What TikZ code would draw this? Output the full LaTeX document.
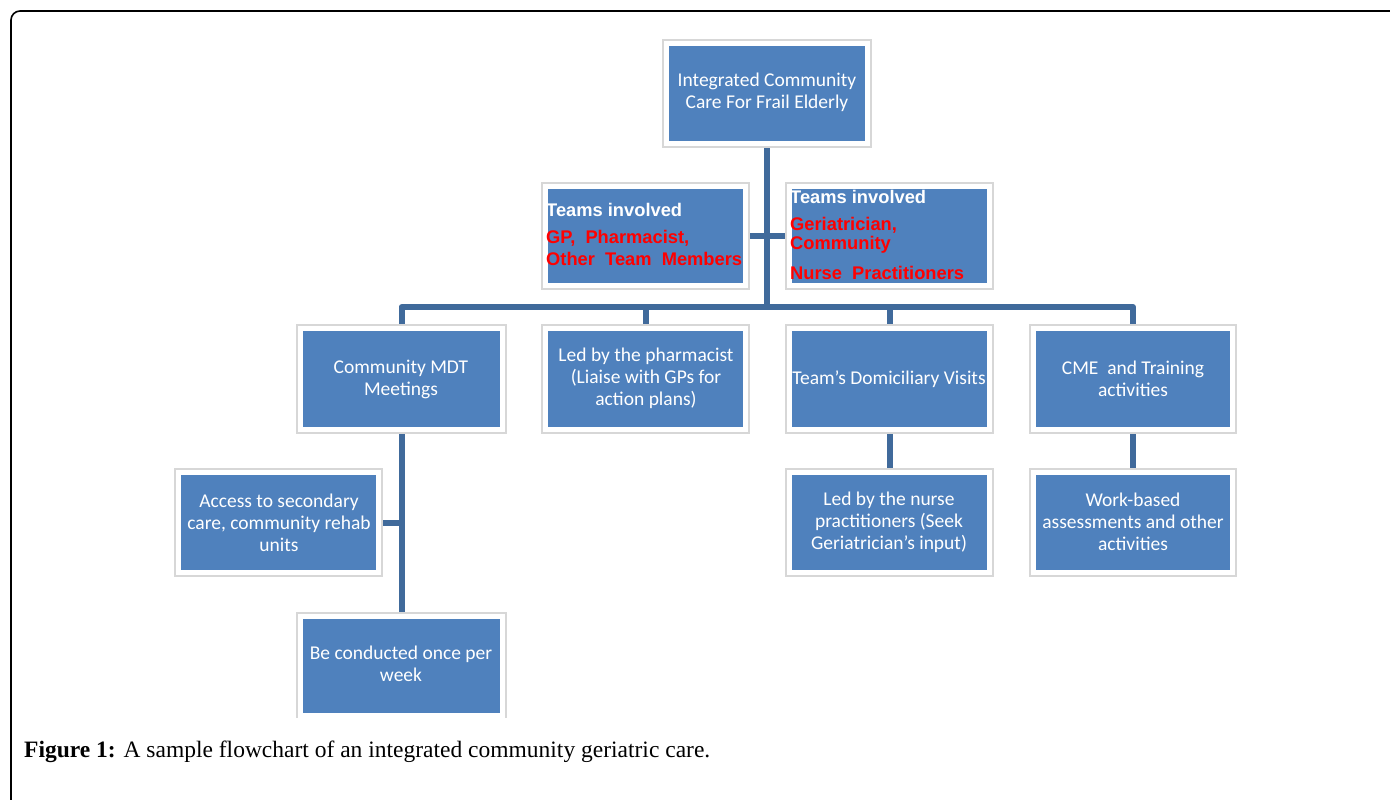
\documentclass[tikz,border=0pt]{standalone}
\usepackage{fontspec}
\setmainfont{Liberation Serif}
\newfontfamily\calfont{Carlito}
\newfontfamily\arialfont{Liberation Sans}
\usetikzlibrary{backgrounds}
\definecolor{boxblue}{RGB}{79,129,189}
\definecolor{connblue}{RGB}{64,106,155}
\definecolor{frameg}{RGB}{215,215,215}
\tikzset{
  x=1pt,y=-1pt,
  obox/.style={draw=frameg,line width=1.3pt,fill=white,inner sep=0pt},
  ibox/.style={fill=boxblue,inner sep=0pt},
  wtext/.style={text=white,align=center,inner sep=0pt,font=\calfont\fontsize{19.5}{22}\selectfont},
  teamhead/.style={text=white,anchor=west,inner sep=0pt,font=\arialfont\bfseries\fontsize{18.3}{20.5}\selectfont},
  teamred/.style={text=red,anchor=west,inner sep=0pt,font=\arialfont\bfseries\fontsize{18.3}{20.5}\selectfont},
  conn/.style={draw=connblue,line width=6pt,line join=round},
}
\newcommand\mkbox[6]{%
  \node[obox,minimum width=#4,minimum height=#5] (#1) at (#2,#3) {};
  \node[ibox,minimum width=#4-12,minimum height=#5-12] at (#1) {};
}
\begin{document}
\begin{tikzpicture}
\useasboundingbox (0,0) rectangle (1390,800);
% boxes
\mkbox{top}{767}{93.5}{208}{107}{}
\mkbox{tl}{645.5}{236}{207}{106}{}
\mkbox{tr}{889.5}{236}{207}{106}{}
\mkbox{mdt}{401.5}{379}{209}{108}{}
\mkbox{phar}{645.5}{379}{207}{108}{}
\mkbox{dom}{889.5}{379}{207}{108}{}
\mkbox{cme}{1133}{379}{206}{108}{}
\mkbox{acc}{278.5}{522.5}{207}{107}{}
\mkbox{nurse}{889.5}{522.5}{207}{107}{}
\mkbox{work}{1133}{522.5}{206}{107}{}
\mkbox{cond}{401.5}{666}{209}{106}{}
% mask bottom of last outer box
\fill[white] (290,717.5) rectangle (512,730);
% texts
\node[wtext] at (767,92.5) {Integrated Community\\Care For Frail Elderly};
\node[teamhead] at (546,210) {Teams involved};
\node[teamred] at (546,238) {GP,\ \ Pharmacist,};
\node[teamred] at (546,259) {Other\ \ Team\ \ Members};
\node[teamhead] at (790,197) {Teams involved};
\node[teamred] at (790,225) {Geriatrician,};
\node[teamred] at (790,245) {Community};
\node[teamred] at (790,273) {Nurse\ \ Practitioners};
\node[wtext] at (401,379) {Community MDT\\Meetings};
\node[wtext] at (646,378) {Led by the pharmacist\\(Liaise with GPs for\\action plans)};
\node[wtext] at (889,379) {Team’s Domiciliary Visits};
\node[wtext] at (1133,379) {CME\ \ and Training\\activities};
\node[wtext] at (279,523) {Access to secondary\\care, community rehab\\units};
\node[wtext] at (889,522) {Led by the nurse\\practitioners (Seek\\Geriatrician’s input)};
\node[wtext] at (1133,522) {Work-based\\assessments and other\\activities};
\node[wtext] at (401,664) {Be conducted once per\\week};
\node[anchor=west,inner sep=0pt,font=\fontsize{23.5}{26}\selectfont] (cap) at (24,752) {\textbf{Figure 1:} A sample flowchart of an integrated community geriatric care.};
% connectors and frame
\begin{pgfonlayer}{background}
\draw[line width=1.6pt,rounded corners=9pt] (1420,11) -- (11,11) -- (11,830);
\coordinate (hub) at (767,307);
\draw[conn] (top.south) -- (hub);
\draw[conn] (mdt.north) |- (hub) -| (cme.north);
\draw[conn] (phar.north) -- (phar.north |- hub);
\draw[conn] (dom.north) -- (dom.north |- hub);
\draw[conn] (tl.east) -- (tr.west);
\draw[conn] (mdt.south) -- (cond.north);
\draw[conn] (acc.east) -- (acc.east -| mdt.south);
\draw[conn] (dom.south) -- (nurse.north);
\draw[conn] (cme.south) -- (work.north);
\end{pgfonlayer}
\end{tikzpicture}
\end{document}
